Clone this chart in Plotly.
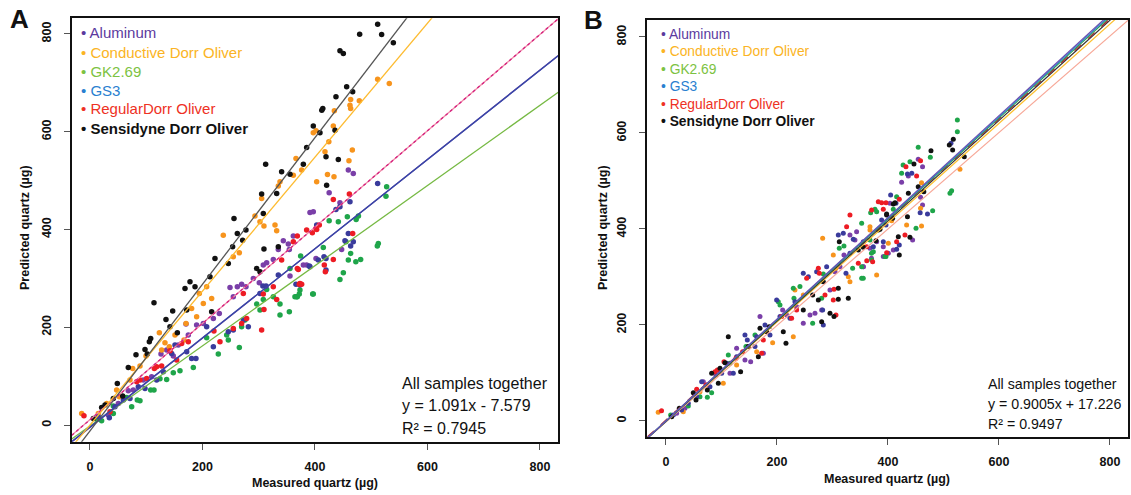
import plotly.graph_objects as go

# ---------------- Series / colours ----------------
series = ["Aluminum", "Conductive Dorr Oliver", "GK2.69", "GS3", "RegularDorr Oliver", "Sensidyne Dorr Oliver"]
legend_colors = ["#5b3a9e", "#fbb424", "#7cc242", "#2a7fd0", "#ee3124", "#111111"]
point_colors = ["#7a3fa8", "#f7941d", "#1fa54a", "#3a3b9c", "#ed1c24", "#111111"]
line_colors_a = ["#5a3d9e", "#fdbb2f", "#76b943", "#3846a8", "#f08aa8", "#555555"]
line_colors_b = ["#6a4fb0", "#fdc02f", "#2aa04a", "#2a7fd0", "#f7a898", "#333333"]

# ---------------- Panel A data ----------------
a_alu_x = [32.6, 50.4, 68.1, 77.0, 94.8, 109.6, 126.2, 136.3, 148.1, 157.0, 170.7, 174.8, 189.6, 201.5, 219.3, 229.9, 248.9, 254.8, 261.9, 269.6, 277.3, 290.4, 301.0, 308.1, 314.1, 325.9, 334.8, 343.7, 352.6, 354.4, 361.5, 355.6, 397.0, 401.8, 385.2, 391.1, 425.2, 444.4, 459.3, 468.1, 447.4, 379.3]
a_alu_y = [20.4, 44.3, 70.2, 71.6, 92.0, 98.8, 145.2, 153.4, 141.1, 163.6, 206.5, 184.1, 204.5, 207.9, 218.1, 228.4, 281.5, 262.4, 282.9, 288.3, 282.9, 299.9, 291.1, 327.2, 332.0, 338.8, 359.2, 377.0, 370.2, 359.2, 386.5, 304.7, 436.3, 340.8, 327.2, 434.9, 475.1, 454.7, 521.5, 514.7, 359.2, 327.2]

a_con_x = [-14.8, 14.8, 29.6, 47.4, 52.1, 71.1, 75.9, 88.9, 99.6, 123.3, 127.4, 133.3, 141.0, 151.1, 167.1, 170.7, 180.7, 189.6, 194.4, 201.5, 207.4, 216.3, 237.0, 254.8, 265.5, 293.3, 302.2, 305.2, 309.3, 328.9, 331.9, 334.8, 337.8, 361.5, 366.2, 376.3, 403.0, 397.0, 401.8, 417.8, 424.6, 432.6, 434.4, 462.2, 463.4, 463.4, 478.8, 422.2, 433.8, 466.4, 460.4, 511.4, 532.1]
a_con_y = [23.9, 23.9, 44.3, 71.6, 57.9, 92.0, 115.9, 120.7, 141.1, 188.8, 153.4, 168.4, 160.2, 184.1, 173.8, 207.9, 238.6, 221.5, 269.3, 248.8, 282.9, 259.0, 388.5, 344.2, 352.4, 427.4, 415.8, 463.5, 407.0, 409.0, 397.4, 488.8, 497.6, 511.2, 545.3, 521.5, 497.6, 597.8, 601.9, 559.0, 579.4, 611.5, 642.8, 654.4, 666.0, 647.6, 663.3, 512.6, 507.8, 562.4, 540.6, 707.6, 698.7]

a_gk_x = [11.9, 20.7, 41.5, 41.5, 65.2, 74.1, 84.1, 88.9, 107.9, 113.8, 124.4, 136.3, 148.1, 160.0, 183.7, 207.4, 228.1, 243.0, 245.9, 265.5, 269.6, 275.6, 296.3, 302.2, 308.1, 314.1, 325.9, 337.8, 337.8, 354.4, 364.4, 368.6, 373.3, 374.5, 397.0, 355.6, 367.4, 372.1, 395.9, 444.4, 450.4, 459.3, 463.4, 472.6, 481.2, 455.1, 414.8, 425.2, 441.5, 457.5, 473.2, 477.3, 512.6, 510.8, 527.4, 526.2]
a_gk_y = [11.6, 8.9, 23.9, 38.9, 56.6, 37.5, 51.1, 49.8, 71.6, 71.6, 94.8, 93.4, 107.0, 111.1, 117.9, 178.6, 145.2, 184.1, 173.8, 158.8, 201.1, 214.7, 247.4, 235.2, 257.0, 277.4, 262.4, 247.4, 225.0, 231.8, 262.4, 262.4, 276.1, 345.6, 267.9, 320.4, 262.4, 267.9, 267.9, 297.9, 311.5, 337.4, 351.1, 334.0, 338.8, 374.9, 363.3, 417.9, 415.8, 426.0, 420.6, 427.4, 371.5, 366.1, 487.4, 468.3]

a_gs3_x = [14.8, 34.4, 44.4, 59.3, 71.1, 85.9, 97.8, 118.5, 130.4, 145.2, 151.1, 171.9, 180.7, 188.4, 207.4, 219.3, 245.9, 254.8, 272.6, 281.5, 302.2, 307.3, 313.0, 334.8, 373.3, 389.9, 403.0, 405.9, 437.3, 444.4, 462.2, 459.3, 453.3, 468.1, 463.4, 419.6, 416.0, 419.6, 366.2, 391.1, 511.4]
a_gs3_y = [17.0, 15.0, 37.5, 51.1, 54.5, 78.4, 75.0, 92.0, 109.1, 146.6, 163.6, 150.0, 136.3, 136.3, 201.1, 160.2, 190.9, 194.3, 214.7, 201.1, 269.3, 284.3, 284.3, 306.8, 286.3, 325.2, 409.0, 337.4, 441.0, 446.5, 456.7, 392.0, 377.0, 374.9, 366.1, 340.8, 344.2, 317.0, 288.3, 323.8, 494.2]

a_reg_x = [-10.7, 35.6, 83.0, 88.9, 100.7, 114.4, 118.5, 127.4, 142.2, 154.1, 163.0, 174.8, 220.4, 231.1, 254.8, 269.6, 272.6, 278.5, 305.2, 308.1, 309.3, 325.9, 331.9, 340.7, 361.5, 368.6, 373.3, 385.2, 401.8, 407.7, 395.3, 403.0, 368.6, 432.6, 461.1, 467.0, 432.6, 416.6, 418.4, 372.1, 376.3, 370.4]
a_reg_y = [19.1, 27.3, 88.6, 92.0, 95.4, 115.9, 119.3, 120.7, 152.0, 132.9, 167.0, 170.4, 192.2, 170.4, 197.7, 207.9, 269.3, 218.1, 194.3, 267.9, 236.5, 282.9, 257.0, 337.4, 374.9, 320.4, 289.7, 398.8, 402.2, 409.0, 393.3, 400.1, 386.5, 461.5, 472.4, 392.0, 338.8, 327.2, 313.6, 288.3, 288.3, 318.3]

a_sen_x = [5.9, 20.7, 26.7, 41.5, 48.6, 58.1, 68.1, 81.8, 97.8, 101.9, 105.5, 107.9, 113.8, 135.1, 142.2, 147.0, 155.3, 168.9, 171.9, 177.8, 186.7, 213.3, 216.3, 222.2, 245.9, 253.6, 256.0, 261.9, 271.4, 277.3, 296.3, 302.2, 305.2, 308.1, 312.3, 309.3, 331.9, 340.7, 355.6, 334.8, 379.3, 385.2, 397.0, 408.9, 412.1, 413.9, 435.6, 437.3, 441.5, 419.6, 420.7, 444.4, 450.4, 456.3, 467.0, 479.4, 511.4, 518.5, 539.3]
a_sen_y = [13.6, 36.1, 40.9, 54.5, 85.2, 59.3, 117.9, 143.8, 154.7, 145.2, 170.4, 177.2, 250.2, 216.1, 201.1, 233.1, 188.8, 279.5, 235.2, 293.1, 282.9, 303.3, 231.8, 340.8, 330.6, 364.7, 422.6, 392.0, 378.3, 398.8, 320.4, 313.6, 472.4, 432.9, 533.7, 359.9, 473.8, 518.1, 513.3, 364.7, 533.7, 567.8, 611.5, 597.8, 644.2, 647.6, 603.3, 671.4, 543.3, 548.7, 490.8, 765.5, 760.1, 691.9, 681.7, 799.6, 820.0, 798.9, 781.9]

a_slope = [0.914, 1.37, 0.82, 0.912, 0.985, 1.50]
a_icpt = [-5.0, 0.0, -2.0, -4.0, 11.0, -12.0]

# ---------------- Panel B data ----------------
b_alu_x = [19.2, 34.2, 67.3, 90.1, 115.3, 127.3, 142.3, 152.6, 169.4, 175.4, 210.2, 217.4, 235.4, 247.4, 259.5, 268.5, 280.5, 295.5, 304.5, 313.5, 320.7, 331.5, 343.5, 352.6, 355.6, 367.6, 379.6, 391.6, 400.6, 340.5, 355.5, 370.3, 391.6, 409.6, 424.6, 436.7, 444.4, 454.5, 462.3, 458.7, 462.3, 403.6]
b_alu_y = [16.0, 26.4, 81.9, 95.8, 99.3, 151.4, 127.1, 123.6, 217.4, 141.0, 231.3, 220.8, 238.2, 203.5, 220.8, 224.3, 231.3, 272.9, 311.1, 321.5, 345.8, 387.5, 394.4, 366.7, 321.5, 359.7, 373.6, 363.2, 349.3, 377.1, 321.5, 338.9, 342.4, 356.3, 497.2, 510.4, 377.1, 545.1, 529.9, 466.0, 450.0, 453.5]

b_con_x = [-14.0, 31.2, 61.3, 103.3, 127.3, 148.3, 163.4, 192.2, 229.4, 232.4, 247.4, 282.3, 301.5, 306.3, 328.5, 331.5, 367.6, 379.6, 400.6, 406.6, 433.6, 460.5, 460.5, 458.7, 529.7, 367.6]
b_con_y = [18.0, 19.4, 61.1, 78.5, 116.7, 154.9, 144.4, 163.2, 175.7, 272.9, 262.5, 380.6, 345.8, 318.1, 300.7, 290.3, 404.9, 304.2, 370.1, 417.4, 408.3, 406.2, 496.5, 443.1, 524.3, 397.9]

b_gk_x = [8.4, 40.2, 61.3, 74.5, 82.3, 112.3, 115.3, 144.1, 160.4, 202.4, 205.4, 229.4, 241.4, 230.6, 264.3, 280.5, 283.5, 312.3, 320.7, 336.3, 352.6, 370.6, 373.6, 352.6, 368.8, 379.6, 394.6, 355.5, 352.6, 370.3, 367.6, 376.6, 409.6, 415.6, 424.6, 427.3, 439.6, 454.5, 476.3, 480.5, 450.5, 511.7, 514.7, 525.0, 525.0, 396.4]
b_gk_y = [12.5, 31.3, 50.7, 49.3, 59.0, 137.5, 120.1, 154.9, 179.2, 248.6, 241.7, 276.4, 279.9, 255.6, 203.5, 255.6, 306.3, 359.7, 364.6, 318.1, 297.2, 335.4, 352.8, 411.8, 434.0, 436.1, 342.4, 297.2, 321.5, 349.3, 377.1, 441.0, 441.0, 467.4, 516.0, 533.3, 540.3, 570.1, 549.3, 438.2, 401.4, 474.3, 479.9, 602.8, 627.1, 342.4]

b_gs3_x = [13.2, 28.2, 40.2, 55.3, 64.3, 79.3, 100.3, 109.3, 121.3, 127.3, 142.3, 146.5, 160.4, 163.4, 178.4, 187.4, 199.4, 205.4, 223.4, 232.4, 247.4, 256.5, 271.5, 282.3, 283.5, 289.5, 310.5, 319.5, 324.3, 331.5, 355.6, 373.6, 388.6, 396.4, 337.5, 391.6, 415.6, 420.4, 435.1, 442.9, 458.0, 471.2, 404.8, 513.5, 414.4]
b_gs3_y = [12.5, 22.9, 36.8, 50.7, 81.9, 71.5, 99.3, 120.1, 99.3, 134.0, 179.2, 168.8, 154.9, 175.7, 200.0, 179.2, 252.1, 217.4, 213.9, 248.6, 307.6, 300.7, 311.1, 231.3, 200.0, 321.5, 387.5, 391.0, 307.6, 349.3, 373.6, 363.2, 418.8, 408.3, 378.5, 373.6, 357.6, 366.7, 514.6, 515.9, 434.0, 431.3, 470.8, 578.5, 453.5]

b_reg_x = [-8.0, 55.3, 72.1, 88.3, 92.5, 104.5, 126.1, 138.1, 172.4, 175.4, 226.4, 208.4, 235.4, 253.5, 274.5, 276.3, 286.5, 301.5, 306.3, 325.5, 370.6, 302.7, 331.5, 382.6, 372.4, 346.5, 361.8, 361.6, 388.6, 396.4, 391.6, 420.4, 432.4, 451.6, 458.7, 415.6, 430.6, 397.6]
b_reg_y = [21.5, 66.0, 75.0, 102.8, 106.3, 123.6, 130.6, 144.4, 141.0, 168.8, 213.9, 217.4, 231.3, 297.2, 318.1, 307.6, 262.5, 252.1, 220.8, 404.9, 439.6, 274.3, 429.2, 456.9, 331.9, 328.5, 334.0, 363.2, 454.9, 454.9, 441.0, 461.8, 529.9, 510.4, 542.4, 373.6, 387.5, 350.7]

b_sen_x = [10.2, 24.0, 49.2, 54.1, 74.5, 82.3, 97.3, 94.3, 106.3, 112.3, 134.5, 148.3, 166.4, 169.4, 181.4, 186.2, 211.4, 216.2, 247.4, 264.3, 274.5, 283.5, 280.5, 295.5, 302.7, 310.5, 310.5, 328.5, 312.3, 382.6, 397.6, 346.5, 355.5, 385.6, 378.4, 397.6, 408.4, 409.6, 412.6, 420.4, 418.6, 435.1, 439.6, 436.7, 446.8, 454.5, 464.6, 477.5, 510.5, 517.7, 516.5, 537.5]
b_sen_y = [9.0, 26.4, 59.0, 43.8, 64.6, 99.3, 109.7, 78.5, 121.5, 175.7, 102.8, 154.9, 134.0, 193.1, 186.1, 196.5, 186.1, 161.8, 231.3, 262.5, 252.1, 290.3, 206.9, 224.3, 217.4, 253.5, 276.4, 255.6, 373.6, 397.9, 429.2, 356.3, 361.8, 399.3, 375.7, 431.3, 422.2, 452.1, 454.9, 345.8, 384.0, 425.7, 382.6, 474.3, 535.4, 488.2, 477.8, 563.2, 575.0, 586.8, 564.6, 550.7]

b_slope = [1.060, 1.035, 1.052, 1.056, 1.005, 1.045]
b_icpt = [0.0, -1.0, 0.0, 0.0, -2.0, -1.0]

a_xs = [a_alu_x, a_con_x, a_gk_x, a_gs3_x, a_reg_x, a_sen_x]
a_ys = [a_alu_y, a_con_y, a_gk_y, a_gs3_y, a_reg_y, a_sen_y]
b_xs = [b_alu_x, b_con_x, b_gk_x, b_gs3_x, b_reg_x, b_sen_x]
b_ys = [b_alu_y, b_con_y, b_gk_y, b_gs3_y, b_reg_y, b_sen_y]

ticks = [0, 200, 400, 600, 800]
a_text = ["All samples together", "y = 1.091x - 7.579", "R² = 0.7945"]
b_text = ["All samples together", "y = 0.9005x + 17.226", "R² = 0.9497"]
x_title = "Measured quartz (µg)"
y_title = "Predicted quartz (µg)"

A_XR = [-32.5, 832.5]
A_YR = [-34.0, 832.0]
B_XR = [-33.7, 833.0]
B_YR = [-34.0, 835.4]

FONT = "Liberation Sans, Arial, sans-serif"

fig = go.Figure()

# Panel A points
for i in range(6):
    fig.add_trace(go.Scatter(x=a_xs[i], y=a_ys[i], mode="markers", xaxis="x", yaxis="y",
                             marker=dict(color=point_colors[i], size=5.5, line=dict(width=0)),
                             showlegend=False, hoverinfo="skip"))
# Panel A regression lines
order_a = [2, 0, 3, 4, 1, 5]
for i in order_a:
    xs = A_XR
    ys = [a_slope[i] * v + a_icpt[i] for v in xs]
    fig.add_trace(go.Scatter(x=xs, y=ys, mode="lines", xaxis="x", yaxis="y",
                             line=dict(color=line_colors_a[i], width=1.3),
                             showlegend=False, hoverinfo="skip"))
    if i == 4:
        fig.add_trace(go.Scatter(x=xs, y=ys, mode="lines", xaxis="x", yaxis="y",
                                 line=dict(color="#d41f7e", width=1.3, dash="dot"),
                                 showlegend=False, hoverinfo="skip"))

# Panel B points
for i in range(6):
    fig.add_trace(go.Scatter(x=b_xs[i], y=b_ys[i], mode="markers", xaxis="x2", yaxis="y2",
                             marker=dict(color=point_colors[i], size=5, line=dict(width=0)),
                             showlegend=False, hoverinfo="skip"))
order_b = [4, 1, 5, 2, 3, 0]
for i in order_b:
    xs = B_XR
    ys = [b_slope[i] * v + b_icpt[i] for v in xs]
    fig.add_trace(go.Scatter(x=xs, y=ys, mode="lines", xaxis="x2", yaxis="y2",
                             line=dict(color=line_colors_b[i], width=1.2),
                             showlegend=False, hoverinfo="skip"))
    if i == 5:
        fig.add_trace(go.Scatter(x=xs, y=[v + 3 for v in ys], mode="lines", xaxis="x2", yaxis="y2",
                                 line=dict(color="#b02030", width=1.2, dash="dash"),
                                 showlegend=False, hoverinfo="skip"))

axis_common = dict(showgrid=False, zeroline=False, showline=True, mirror=True,
                   linecolor="#111111", linewidth=2, ticks="outside", ticklen=6,
                   tickcolor="#555555", tickwidth=1.3, tickvals=ticks,
                   tickfont=dict(family=FONT, size=12.5, color="#111111", weight="bold"))

fig.update_layout(
    width=1131, height=495,
    margin=dict(l=0, r=0, t=0, b=0),
    paper_bgcolor="white", plot_bgcolor="white",
    showlegend=False,
    xaxis=dict(domain=[0.0634, 0.4936], range=A_XR, anchor="y", ticklabelstandoff=6, **axis_common),
    yaxis=dict(domain=[0.1077, 0.9630], range=A_YR, anchor="x", tickangle=-90, ticklabelstandoff=8, **axis_common),
    xaxis2=dict(domain=[0.5723, 0.9976], range=B_XR, anchor="y2", ticklabelstandoff=6, **axis_common),
    yaxis2=dict(domain=[0.1166, 0.9596], range=B_YR, anchor="x2", tickangle=-90, ticklabelstandoff=8, **axis_common),
)


def P(x, y):
    return x / 1131, 1 - y / 495


ann = []
# Panel letters
for letter, (lx, ly) in [("A", (19, 19)), ("B", (593, 20))]:
    px, py = P(lx, ly)
    ann.append(dict(text="<b>" + letter + "</b>", x=px, y=py, xref="paper", yref="paper",
                    xanchor="center", yanchor="middle", showarrow=False,
                    font=dict(family="Liberation Sans, Arial", size=26, color="#111")))

# Legends (colored text with bullets)
for i, name in enumerate(series):
    w = "bold" if i == 5 else "normal"
    px, py = P(79, 33 + 19 * i)
    ann.append(dict(text="• " + name, x=px, y=py, xref="paper", yref="paper",
                    xanchor="left", yanchor="middle", showarrow=False,
                    font=dict(family="Liberation Sans, Arial", size=15, color=legend_colors[i], weight=w)))
    px, py = P(659, 34 + 17.5 * i)
    ann.append(dict(text="• " + name, x=px, y=py, xref="paper", yref="paper",
                    xanchor="left", yanchor="middle", showarrow=False,
                    font=dict(family="Liberation Sans, Arial", size=13.8, color=legend_colors[i], weight=w)))

# Regression text
for k, t in enumerate(a_text):
    px, py = P(400, 383 + 22.5 * k)
    ann.append(dict(text=t, x=px, y=py, xref="paper", yref="paper",
                    xanchor="left", yanchor="middle", showarrow=False,
                    font=dict(family=FONT, size=16, color="#111")))
for k, t in enumerate(b_text):
    px, py = P(986, 384 + 20 * k)
    ann.append(dict(text=t, x=px, y=py, xref="paper", yref="paper",
                    xanchor="left", yanchor="middle", showarrow=False,
                    font=dict(family=FONT, size=14.2, color="#111")))

# Axis titles
for (cx, cy, ang) in [(315, 483, 0), (887, 479, 0), (25, 228, -90), (603, 228, -90)]:
    px, py = P(cx, cy)
    ann.append(dict(text=x_title if ang == 0 else y_title, x=px, y=py, xref="paper", yref="paper",
                    xanchor="center", yanchor="middle", textangle=ang, showarrow=False,
                    font=dict(family=FONT, size=12.5, color="#111", weight="bold")))

fig.update_layout(annotations=ann)
fig.write_html("out.html", config={"displayModeBar": False},
               post_script="document.body.style.margin='0px';document.body.style.overflow='hidden';")
